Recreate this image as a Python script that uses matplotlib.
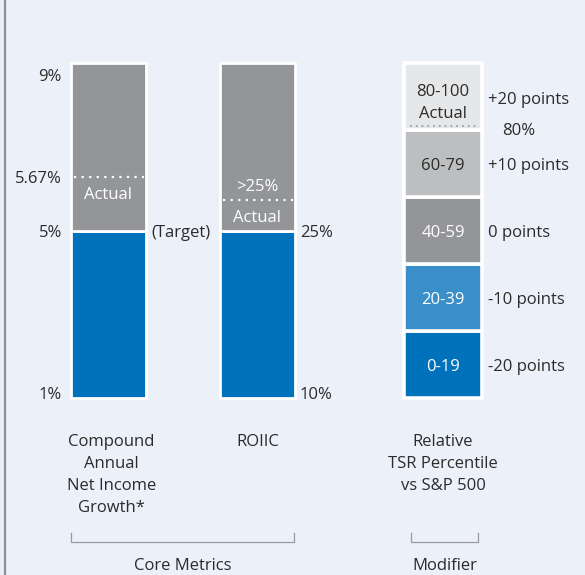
import matplotlib.pyplot as plt

# core metrics (levels are in % of bar height, 0 = bottom, 100 = top)
core_names = ["Compound\nAnnual\nNet Income\nGrowth*", "ROIIC"]
core_target = [50, 50]
core_actual = [66, 59]
core_bottom_lbl = ["1%", "10%"]
core_target_lbl = ["5%", "25%"]
core_top_lbl = ["9%", ""]

# modifier: relative TSR percentile bands
tsr_name = "Relative\nTSR Percentile\nvs S&P 500"
band_start = [0, 20, 40, 60, 80]
band_size = [20, 20, 20, 20, 20]
band_lbl = ["0-19", "20-39", "40-59", "60-79", "80-100"]
band_pts = ["-20 points", "-10 points", "0 points", "+10 points", "+20 points"]
band_col = ["#0072bc", "#3a8fcb", "#939598", "#bcbec0", "#e6e7e8"]
band_txt = ["white", "white", "white", "#2b2b2b", "#2b2b2b"]
tsr_actual = 80

bg = "#ebf0f9"
txt = "#2b2b2b"
blue = "#0072bc"
grey = "#939598"

plt.rcParams['font.family'] = ['Open Sans', 'DejaVu Sans']
fs = 12
dy = -0.7  # small nudge so text centres sit like the original

def label(x, y, s, ha='center', color=txt):
    ax.text(x, y + dy, s, ha=ha, va='center', fontsize=fs, color=color)

fig = plt.figure(figsize=(5.85, 5.75), dpi=100)
fig.patch.set_facecolor(bg)
ax = fig.add_axes([0, 0, 1, 1])
ax.set_facecolor(bg)
ax.set_xlim(-0.728, 3.198)
ax.set_ylim(-52.8, 118.8)
ax.axis('off')

bar_x = [0, 1]
w = 0.505
for i in range(2):
    ax.bar(bar_x[i], core_target[i], width=w, color=blue, edgecolor='white', linewidth=2)
    ax.bar(bar_x[i], 100 - core_target[i], bottom=core_target[i], width=w,
           color=grey, edgecolor='white', linewidth=2)
    ax.hlines(core_actual[i], bar_x[i] - 0.23, bar_x[i] + 0.24, colors='white',
              linestyles=(0, (1, 2.4)), linewidth=1.6)

# left scale
label(-0.312, 96.5, core_top_lbl[0], ha='right')
label(-0.312, core_actual[0], "5.67%", ha='right')
label(-0.312, core_target[0], core_target_lbl[0], ha='right')
label(-0.312, 1.5, core_bottom_lbl[0], ha='right')
label(0.285, core_target[0], "(Target)", ha='left')
label(0, core_actual[0] - 4.6, "Actual", color='white')

# ROIIC scale
label(1.285, core_target[1], core_target_lbl[1], ha='left')
label(1.285, 1.5, core_bottom_lbl[1], ha='left')
label(1, core_actual[1] + 4.6, ">25%", color='white')
label(1, core_actual[1] - 4.6, "Actual", color='white')

# TSR stacked bar
tx = 2.245
ax.bar(tx, band_size, bottom=band_start, width=0.525, color=band_col,
       edgecolor='white', linewidth=2.6)
for i in range(5):
    mid = band_start[i] + band_size[i] / 2
    if i == 4:
        label(tx, mid + 2, band_lbl[i], color=band_txt[i])
        label(tx, mid - 4.6, "Actual", color=band_txt[i])
    else:
        label(tx, mid, band_lbl[i], color=band_txt[i])
    label(2.547, mid - (0.4 if i == 4 else 0), band_pts[i], ha='left')
ax.hlines(tsr_actual + 1.2, tx - 0.22, tx + 0.23, colors='#9d9ea1',
          linestyles=(0, (1, 2.2)), linewidth=1.3)
label(2.755, tsr_actual + 0.3, "80%")

# category labels
for x, name in zip(bar_x + [tx], core_names + [tsr_name]):
    ax.text(x + (0.02 if x == 0 else 0), -10.7, name, ha='center', va='top',
            fontsize=fs, color=txt, linespacing=1.5)

# brackets
def bracket(x0, x1, name):
    ax.plot([x0, x0, x1, x1], [-40.3, -43, -43, -40.3], color='#9a9ba0', lw=0.9)
    label((x0 + x1) / 2, -49.3, name)

bracket(-0.252, 1.245, "Core Metrics")
bracket(2.03, 2.48, "Modifier")

ax.axvline(-0.695, color='#8f9095', lw=1.6)

plt.savefig('out.png', dpi=100, facecolor=bg)
